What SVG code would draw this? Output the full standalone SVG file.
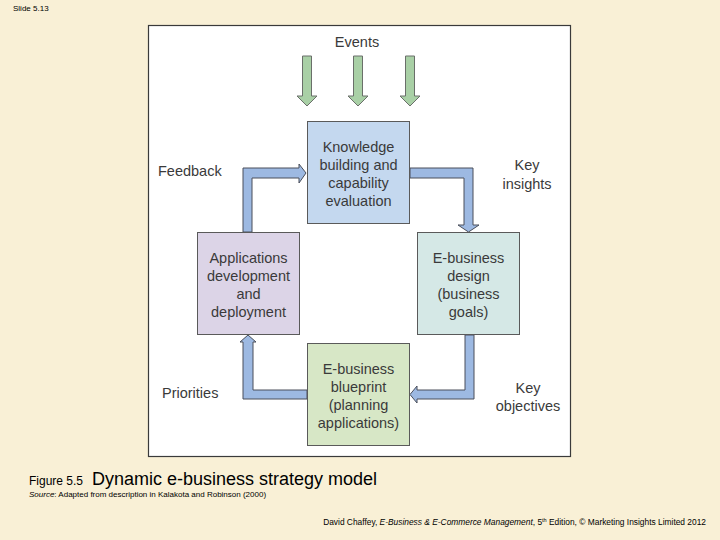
<svg xmlns="http://www.w3.org/2000/svg" width="720" height="540" viewBox="0 0 720 540">
<style>
.lbl{font-family:"Liberation Sans",Arial,sans-serif;font-size:14.5px;fill:#3a3a3a;}
.c{text-anchor:middle;}
.box{stroke:#5a5a5a;stroke-width:1;}
.conn{fill:#9db9e2;stroke:#4a4f5a;stroke-width:1;stroke-linejoin:miter;}
.ev{fill:#a9d0a6;stroke:#6a6f6a;stroke-width:1;}
.sm{font-family:"Liberation Sans",Arial,sans-serif;fill:#000;}
</style>
<rect width="720" height="540" fill="#f9f0d6"/>
<text class="sm" x="13" y="11" font-size="8">Slide 5.13</text>
<rect x="148.5" y="25.5" width="422" height="431" fill="#ffffff" stroke="#3a3a3a" stroke-width="1.2"/>

<g id="connectors">
  <g id="events">
    <polygon class="ev" points="302.5,56 311.5,56 311.5,96 317,96 307,106 297,96 302.5,96"/>
    <polygon class="ev" points="353.5,56 362.5,56 362.5,96 368,96 358,106 348,96 353.5,96"/>
    <polygon class="ev" points="405.5,56 414.5,56 414.5,96 420,96 410,106 400,96 405.5,96"/>
  </g>
  <polygon id="feedback" class="conn" points="243,232 243,168 299,168 299,164 306,173 299,183 299,178 252,178 252,232"/>
  <polygon id="keyinsights" class="conn" points="410,168 473,168 473,225 479,225 468.5,232 458,225 464,225 464,178 410,178"/>
  <polygon id="priorities" class="conn" points="307,399 243,399 243,342 240,342 248,335 256,342 253,342 253,390 307,390"/>
  <polygon id="keyobjectives" class="conn" points="465,335 474,335 474,399 417,399 417,403 410,394.5 417,386 417,390 465,390"/>
</g>

<g id="knowledge">
  <rect class="box" x="307.5" y="121.5" width="102" height="102" fill="#c4d8ef"/>
  <text class="lbl c" x="358.5" y="152">Knowledge</text>
  <text class="lbl c" x="358.5" y="170">building and</text>
  <text class="lbl c" x="358.5" y="188">capability</text>
  <text class="lbl c" x="358.5" y="206">evaluation</text>
</g>
<g id="applications">
  <rect class="box" x="197.5" y="232.5" width="102" height="102" fill="#dcd4e7"/>
  <text class="lbl c" x="248.5" y="263">Applications</text>
  <text class="lbl c" x="248.5" y="281">development</text>
  <text class="lbl c" x="248.5" y="299">and</text>
  <text class="lbl c" x="248.5" y="317">deployment</text>
</g>
<g id="design">
  <rect class="box" x="417.5" y="232.5" width="102" height="102" fill="#d5e8e6"/>
  <text class="lbl c" x="468.5" y="263">E-business</text>
  <text class="lbl c" x="468.5" y="281">design</text>
  <text class="lbl c" x="468.5" y="299">(business</text>
  <text class="lbl c" x="468.5" y="317">goals)</text>
</g>
<g id="blueprint">
  <rect class="box" x="307.5" y="343.5" width="102" height="102" fill="#d7e7c6"/>
  <text class="lbl c" x="358.5" y="374">E-business</text>
  <text class="lbl c" x="358.5" y="392">blueprint</text>
  <text class="lbl c" x="358.5" y="410">(planning</text>
  <text class="lbl c" x="358.5" y="428">applications)</text>
</g>

<g id="labels">
  <text class="lbl c" x="357" y="47">Events</text>
  <text class="lbl" x="158" y="176">Feedback</text>
  <text class="lbl c" x="527" y="170">Key</text>
  <text class="lbl c" x="527" y="189">insights</text>
  <text class="lbl" x="162" y="398">Priorities</text>
  <text class="lbl c" x="528" y="393">Key</text>
  <text class="lbl c" x="528" y="411">objectives</text>
</g>

<text class="sm" x="29" y="485" font-size="12">Figure 5.5</text>
<text class="sm" x="92" y="485" font-size="18">Dynamic e-business strategy model</text>
<text class="sm" x="29" y="497" font-size="8"><tspan font-style="italic">Source</tspan>: Adapted from description in Kalakota and Robinson (2000)</text>
<text class="sm" x="706" y="525" font-size="8.4" text-anchor="end">David Chaffey, <tspan font-style="italic">E-Business &amp; E-Commerce Management</tspan>, 5<tspan font-size="5.5" dy="-3">th</tspan><tspan dy="3"> Edition, © Marketing Insights Limited 2012</tspan></text>
</svg>
